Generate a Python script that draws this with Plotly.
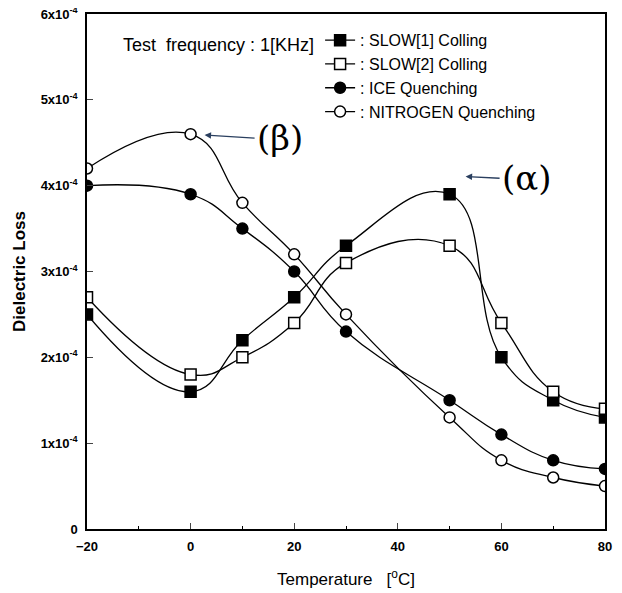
import plotly.graph_objects as go

temps = [-20, 0, 10, 20, 30, 50, 60, 70, 80]
slow1 = [2.5, 1.6, 2.2, 2.7, 3.3, 3.9, 2.0, 1.5, 1.3]
slow2 = [2.7, 1.8, 2.0, 2.4, 3.1, 3.3, 2.4, 1.6, 1.4]
ice = [4.0, 3.9, 3.5, 3.0, 2.3, 1.5, 1.1, 0.8, 0.7]
nitrogen = [4.2, 4.6, 3.8, 3.2, 2.5, 1.3, 0.8, 0.6, 0.5]
scale = 1e-4

names = [": SLOW[1] Colling", ": SLOW[2] Colling", ": ICE Quenching", ": NITROGEN Quenching"]
series = [slow1, slow2, ice, nitrogen]
symbols = ["square", "square", "circle", "circle"]
fills = ["black", "white", "black", "white"]

ytickvals = [0, 1e-4, 2e-4, 3e-4, 4e-4, 5e-4, 6e-4]
yticktext = ["0", "1x10<sup>-4</sup>", "2x10<sup>-4</sup>", "3x10<sup>-4</sup>",
             "4x10<sup>-4</sup>", "5x10<sup>-4</sup>", "6x10<sup>-4</sup>"]
xtickvals = [-20, 0, 20, 40, 60, 80]

fig = go.Figure()
for name, vals, sym, fc in zip(names, series, symbols, fills):
    fig.add_trace(go.Scatter(
        x=temps, y=[v * scale for v in vals], name=name,
        mode="lines+markers",
        line=dict(color="black", width=1.3, shape="spline", smoothing=1.3),
        marker=dict(symbol=sym, size=11, color=fc, line=dict(color="black", width=1.5)),
    ))

font = "Liberation Sans, Arial, sans-serif"
fig.update_layout(
    width=614, height=585,
    margin=dict(l=79, r=17, t=6, b=64, autoexpand=False),
    paper_bgcolor="white", plot_bgcolor="white",
    font=dict(family=font, color="black", size=13),
    showlegend=True,
    legend=dict(x=0.45, y=0.982, xanchor="left", yanchor="top",
                font=dict(size=16, family=font), bgcolor="rgba(0,0,0,0)",
                itemwidth=30, tracegroupgap=0),
    xaxis=dict(range=[-20, 80], tickvals=xtickvals, ticks="inside", ticklen=6,
               showline=True, linecolor="black", linewidth=1.5, mirror=True,
               showgrid=False, zeroline=False, automargin=False,
               ticklabelstandoff=5, ticklabeloverflow="allow",
               minor=dict(dtick=10, ticks="inside", ticklen=3, tickcolor="black"),
               tickfont=dict(size=13, family=font, weight="bold"),
               title=dict(text="Temperature   [<sup>o</sup>C]", font=dict(size=17), standoff=20)),
    yaxis=dict(range=[0, 6e-4], tickvals=ytickvals, ticktext=yticktext, ticks="inside", ticklen=6,
               showline=True, linecolor="black", linewidth=1.5, mirror=True,
               showgrid=False, zeroline=False, automargin=False,
               ticklabelstandoff=5, ticklabeloverflow="allow",
               tickfont=dict(size=13, family=font, weight="bold"),
               title=dict(text="<b>Dielectric Loss</b>", font=dict(size=17), standoff=11)),
)

fig.add_annotation(text="Test  frequency : 1[KHz]", xref="paper", yref="paper",
                   x=0.066, y=0.94, xanchor="left", yanchor="middle", showarrow=False,
                   font=dict(size=18, family=font))
fig.add_annotation(text="(β)", x=0, y=4.6e-4, ax=64, ay=4, axref="pixel", ayref="pixel",
                   xanchor="left", showarrow=True, arrowhead=2, arrowsize=1, arrowwidth=1.3,
                   standoff=14, font=dict(size=34, family="DejaVu Serif, serif"))
fig.add_annotation(text="(α)", x=50, y=3.9e-4, xshift=12, yshift=18, ax=38, ay=2, axref="pixel", ayref="pixel",
                   xanchor="left", showarrow=True, arrowhead=2, arrowsize=1, arrowwidth=1.3,
                   standoff=4, font=dict(size=34, family="DejaVu Serif, serif"))

fig.write_html("out.html")
